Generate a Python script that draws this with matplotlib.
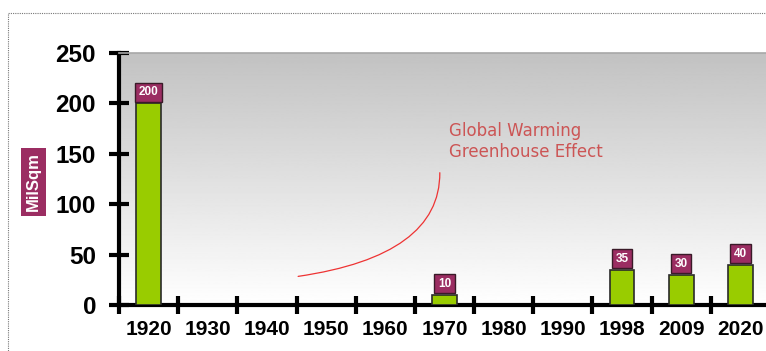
import numpy as np
import matplotlib.pyplot as plt
from matplotlib.patches import Rectangle

years = ["1920", "1930", "1940", "1950", "1960", "1970", "1980", "1990", "1998", "2009", "2020"]
area = [200, 0, 0, 0, 0, 10, 0, 0, 35, 30, 40]
y_ticks = [0, 50, 100, 150, 200, 250]

plt.rcParams['font.family'] = ['Liberation Sans', 'DejaVu Sans']

fig = plt.figure(figsize=(7.66, 3.51), dpi=100)
ax = fig.add_axes([119 / 766, 46 / 351, 651 / 766, 252 / 351])

# grey at the top fading to white at the bottom
grad = np.linspace(1.0, 0.76, 256).reshape(-1, 1)
ax.imshow(grad, cmap='gray', vmin=0, vmax=1, aspect='auto', origin='lower',
          extent=(-0.5, 10.5, 0, 250), zorder=0)

x = np.arange(len(years))
vals = np.array(area)
shown = vals > 0
ax.bar(x[shown], vals[shown], width=0.42, color='#99cc00',
       edgecolor='#2a2a2a', linewidth=1.2, zorder=3)

for xi, v in zip(x[shown], vals[shown]):
    ax.text(xi, v + 5, str(v), ha='center', va='bottom', color='white',
            fontsize=8.5, fontweight='bold', zorder=4,
            bbox=dict(boxstyle='square,pad=0.3', facecolor='#9b2d62',
                      edgecolor='#3a1a28', linewidth=1))

ax.set_xlim(-0.5, 10.5)
ax.set_ylim(0, 250)
ax.set_yticks(y_ticks)
ax.set_yticklabels([str(t) for t in y_ticks], fontsize=17.5, fontweight='bold')
ax.set_xticks(x)
ax.set_xticklabels(years, fontsize=15, fontweight='bold')
ax.set_xticks(np.arange(len(years)) - 0.5, minor=True)
ax.tick_params(axis='x', which='major', length=0, pad=11)
ax.tick_params(axis='x', which='minor', length=13, width=3, direction='inout')
ax.tick_params(axis='y', length=15, width=3, direction='inout', pad=9)

for side in ['left', 'bottom']:
    ax.spines[side].set_linewidth(3)
ax.spines['top'].set_color('#a8a8a8')
ax.spines['top'].set_linewidth(1.2)
ax.spines['right'].set_visible(False)

fig.text(33 / 766, (351 - 182) / 351, 'MilSqm', rotation=90, ha='center', va='center',
         fontsize=12, fontweight='bold', color='white',
         bbox=dict(boxstyle='square,pad=0.3', facecolor='#9b2d62', edgecolor='none'))

# curved pointer towards the caption
ax.annotate('', xy=(2.48, 28), xytext=(4.92, 134),
            arrowprops=dict(arrowstyle='-', color='#ee3333', lw=0.9,
                            connectionstyle='angle3,angleA=92,angleB=8'), zorder=2)
ax.text(5.07, 182, 'Global Warming\nGreenhouse Effect', color='#cc5555',
        fontsize=12, family=['DejaVu Sans'], va='top', ha='left',
        linespacing=1.25, zorder=2)

# dotted frame around the slide
fig.patches.append(Rectangle((8 / 766, -0.1), 1.0, (351 - 13) / 351 + 0.1,
                             transform=fig.transFigure, fill=False,
                             edgecolor='#777777', linestyle=(0, (1, 1)),
                             linewidth=0.8))

fig.savefig('out.png', dpi=100)
